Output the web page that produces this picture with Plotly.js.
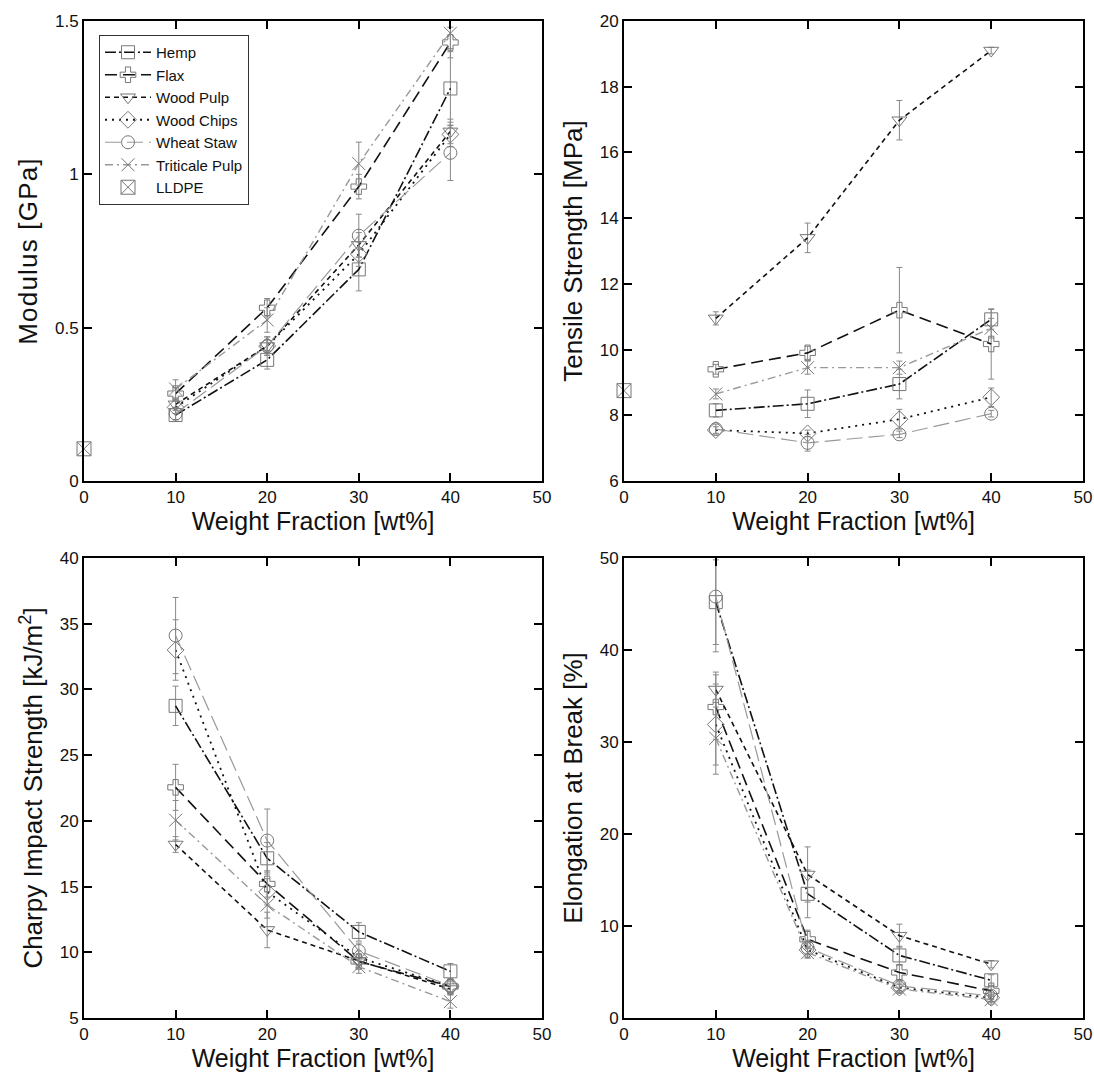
<!DOCTYPE html>
<html>
<head>
<meta charset="utf-8">
<script src="https://cdn.plot.ly/plotly-3.0.1.min.js"></script>
<style>
html,body{margin:0;padding:0;background:#fff;}
#chart{width:1094px;height:1079px;}
#chart .ytitle{letter-spacing:1.2px;}
</style>
</head>
<body>
<div id="chart"></div>
<script>
// ---------- data ----------
const weightFraction = [10, 20, 30, 40];
const seriesNames = ["Hemp", "Flax", "Wood Pulp", "Wood Chips", "Wheat Staw", "Triticale Pulp"];
const lldpeName = "LLDPE";
const lldpeX = [0];

// Modulus [GPa]
const hempMod = [0.215, 0.395, 0.69, 1.28];
const flaxMod = [0.285, 0.565, 0.96, 1.43];
const woodPulpMod = [0.25, 0.44, 0.77, 1.14];
const woodChipsMod = [0.24, 0.44, 0.74, 1.13];
const wheatMod = [0.22, 0.44, 0.80, 1.07];
const triticaleMod = [0.30, 0.525, 1.035, 1.46];
const hempModErr = [0.02, 0.03, 0.07, 0.12];
const flaxModErr = [0.02, 0.03, 0.04, 0.05];
const woodPulpModErr = [0.02, 0.03, 0.04, 0.04];
const woodChipsModErr = [0.02, 0.02, 0.04, 0.04];
const wheatModErr = [0.02, 0.03, 0.07, 0.09];
const triticaleModErr = [0.03, 0.04, 0.07, 0.05];
const lldpeMod = [0.105];

// Tensile Strength [MPa]
const hempTen = [8.15, 8.35, 8.95, 10.92];
const flaxTen = [9.4, 9.9, 11.2, 10.17];
const woodPulpTen = [10.95, 13.4, 16.98, 19.1];
const woodChipsTen = [7.55, 7.45, 7.88, 8.55];
const wheatTen = [7.58, 7.16, 7.42, 8.05];
const triticaleTen = [8.65, 9.45, 9.45, 10.65];
const hempTenErr = [0.2, 0.42, 0.45, 0.3];
const flaxTenErr = [0.15, 0.2, 1.3, 1.07];
const woodPulpTenErr = [0.2, 0.45, 0.6, 0.1];
const woodChipsTenErr = [0.1, 0.1, 0.3, 0.28];
const wheatTenErr = [0.15, 0.25, 0.1, 0.1];
const triticaleTenErr = [0.15, 0.2, 0.2, 0.3];
const lldpeTen = [8.75];

// Charpy Impact Strength [kJ/m2]
const hempCh = [28.75, 17.15, 11.55, 8.55];
const flaxCh = [22.55, 15.2, 9.3, 7.4];
const woodPulpCh = [18.2, 11.7, 9.35, 7.2];
const woodChipsCh = [33.0, 14.6, 9.6, 7.4];
const wheatCh = [34.1, 18.5, 10.1, 7.45];
const triticaleCh = [20.05, 13.6, 8.9, 6.25];
const hempChErr = [1.5, 1.2, 0.7, 0.6];
const flaxChErr = [1.75, 1.0, 0.5, 0.5];
const woodPulpChErr = [0.6, 1.35, 0.5, 0.4];
const woodChipsChErr = [2.3, 1.0, 0.5, 0.4];
const wheatChErr = [2.9, 2.4, 0.6, 0.5];
const triticaleChErr = [1.5, 1.0, 0.5, 0.5];

// Elongation at Break [%]
const hempEl = [45.2, 13.5, 6.8, 4.1];
const flaxEl = [33.8, 8.55, 4.95, 2.95];
const woodPulpEl = [35.7, 15.6, 8.95, 5.85];
const woodChipsEl = [31.9, 7.4, 3.3, 2.2];
const wheatEl = [45.8, 7.65, 3.5, 2.4];
const triticaleEl = [30.4, 7.1, 3.15, 2.0];
const hempElErr = [4.6, 2.6, 1.0, 0.6];
const flaxElErr = [3.5, 1.0, 0.8, 0.6];
const woodPulpElErr = [1.9, 3.0, 1.25, 0.4];
const woodChipsElErr = [4.4, 0.8, 0.5, 0.4];
const wheatElErr = [6.0, 0.8, 0.5, 0.4];
const triticaleElErr = [3.9, 0.6, 0.5, 0.5];

const xTickVals = [0, 10, 20, 30, 40, 50];
const modTicks = [0, 0.5, 1, 1.5];
const modTickText = ["0", "0.5", "1", "1.5"];
const tenTicks = [6, 8, 10, 12, 14, 16, 18, 20];
const chTicks = [5, 10, 15, 20, 25, 30, 35, 40];
const elTicks = [0, 10, 20, 30, 40, 50];

// ---------- styles ----------
const styles = [
  {symbol: "square-open", color: "#111", dash: "11px,3px,2px,3px", width: 1.6},
  {symbol: "cross-open", color: "#111", dash: "12px,6px", width: 1.6},
  {symbol: "triangle-down-open", color: "#111", dash: "5px,4px", width: 1.6},
  {symbol: "diamond-open", color: "#111", dash: "2px,5px", width: 1.8},
  {symbol: "circle-open", color: "#999", dash: "16px,6px", width: 1.2},
  {symbol: "x-thin-open", color: "#999", dash: "8px,4px,2px,4px", width: 1.4}
];
const markerColor = "#777";

const panels = [
  {x: "x", y: "y", data: [hempMod, flaxMod, woodPulpMod, woodChipsMod, wheatMod, triticaleMod],
   err: [hempModErr, flaxModErr, woodPulpModErr, woodChipsModErr, wheatModErr, triticaleModErr], lldpe: lldpeMod, legend: true},
  {x: "x2", y: "y2", data: [hempTen, flaxTen, woodPulpTen, woodChipsTen, wheatTen, triticaleTen],
   err: [hempTenErr, flaxTenErr, woodPulpTenErr, woodChipsTenErr, wheatTenErr, triticaleTenErr], lldpe: lldpeTen, legend: false},
  {x: "x3", y: "y3", data: [hempCh, flaxCh, woodPulpCh, woodChipsCh, wheatCh, triticaleCh],
   err: [hempChErr, flaxChErr, woodPulpChErr, woodChipsChErr, wheatChErr, triticaleChErr], lldpe: null, legend: false},
  {x: "x4", y: "y4", data: [hempEl, flaxEl, woodPulpEl, woodChipsEl, wheatEl, triticaleEl],
   err: [hempElErr, flaxElErr, woodPulpElErr, woodChipsElErr, wheatElErr, triticaleElErr], lldpe: null, legend: false}
];

const traces = [];
panels.forEach(p => {
  p.data.forEach((vals, i) => {
    const s = styles[i];
    traces.push({
      type: "scatter", mode: "lines+markers", x: weightFraction, y: vals,
      xaxis: p.x, yaxis: p.y, name: seriesNames[i], showlegend: p.legend,
      line: {color: s.color, dash: s.dash, width: s.width},
      marker: {symbol: s.symbol, size: 13, color: markerColor, line: {color: markerColor, width: 1}},
      error_y: {type: "data", array: p.err[i], visible: true, color: "#888", thickness: 1, width: 3}
    });
  });
  if (p.lldpe) {
    traces.push({
      type: "scatter", mode: "markers", x: lldpeX, y: p.lldpe, xaxis: p.x, yaxis: p.y,
      name: lldpeName, showlegend: p.legend, cliponaxis: false,
      marker: {symbol: "square-x-open", size: 14, color: markerColor, line: {color: markerColor, width: 1}}
    });
  }
});

const font = "Liberation Sans, Arial, sans-serif";
function xAxis(domain, anchor) {
  return {
    domain: domain, anchor: anchor, range: [0, 50], tickvals: xTickVals,
    ticks: "inside", ticklen: 8, tickwidth: 2, tickcolor: "#000",
    showline: true, linewidth: 2, linecolor: "#000", mirror: "ticks",
    showgrid: false, zeroline: false,
    tickfont: {family: font, size: 17, color: "#111"},
    title: {text: "Weight Fraction [wt%]", font: {family: font, size: 25, color: "#111"}, standoff: 2}
  };
}
function yAxis(domain, anchor, range, tickvals, ticktext, title) {
  const a = {
    domain: domain, anchor: anchor, range: range, tickvals: tickvals,
    ticks: "inside", ticklen: 8, tickwidth: 2, tickcolor: "#000",
    showline: true, linewidth: 2, linecolor: "#000", mirror: "ticks",
    showgrid: false, zeroline: false,
    tickfont: {family: font, size: 17, color: "#111"},
    title: {text: title, font: {family: font, size: 26, color: "#111"}, standoff: 10}
  };
  if (ticktext) a.ticktext = ticktext;
  return a;
}
const W = 1094, H = 1079;
const leftDom = [84 / W, 542 / W];
const rightDom = [624 / W, 1083 / W];
const topDom = [1 - 481 / H, 1 - 21 / H];
const botDom = [1 - 1018 / H, 1 - 558 / H];

const layout = {
  width: W, height: H,
  margin: {l: 0, r: 0, t: 0, b: 0},
  paper_bgcolor: "#fff", plot_bgcolor: "#fff",
  font: {family: font, color: "#111"},
  showlegend: true,
  legend: {
    x: 99 / W, y: 1 - 35 / H, xanchor: "left", yanchor: "top",
    bgcolor: "#fff", bordercolor: "#333", borderwidth: 1, itemwidth: 46,
    font: {family: font, size: 15, color: "#111"}, tracegroupgap: 0
  },
  xaxis: xAxis(leftDom, "y"),
  yaxis: yAxis(topDom, "x", [0, 1.5], modTicks, modTickText, "Modulus [GPa]"),
  xaxis2: xAxis(rightDom, "y2"),
  yaxis2: yAxis(topDom, "x2", [6, 20], tenTicks, null, "Tensile Strength [MPa]"),
  xaxis3: xAxis(leftDom, "y3"),
  yaxis3: yAxis(botDom, "x3", [5, 40], chTicks, null, "Charpy Impact Strength [kJ/m<sup>2</sup>]"),
  xaxis4: xAxis(rightDom, "y4"),
  yaxis4: yAxis(botDom, "x4", [0, 50], elTicks, null, "Elongation at Break [%]")
};

Plotly.newPlot("chart", traces, layout, {displayModeBar: false, staticPlot: true});
</script>
</body>
</html>
